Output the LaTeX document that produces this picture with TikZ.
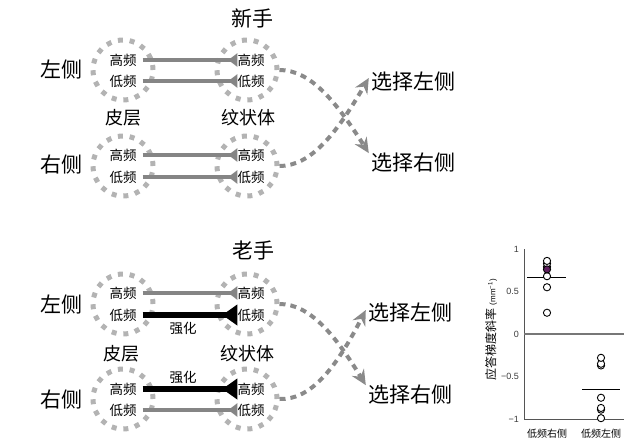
\documentclass[tikz,border=0pt]{standalone}
\usepackage{fontspec}
\newfontfamily\cjk{Noto Sans CJK SC}
\newfontfamily\numf{Liberation Sans}
\usetikzlibrary{arrows.meta}
\definecolor{ringgray}{HTML}{B3B3B3}
\definecolor{weakgray}{HTML}{858585}
\definecolor{curvegray}{HTML}{8A8A8A}
\definecolor{axisgray}{HTML}{555555}
\definecolor{dotpurple}{HTML}{5E1F5E}
\begin{document}
\begin{tikzpicture}[x=1pt,y=-1pt,
  big/.style={font=\cjk\fontsize{21}{21}\selectfont, inner sep=0pt},
  mid/.style={font=\cjk\fontsize{18}{18}\selectfont, inner sep=0pt},
  sml/.style={font=\cjk\fontsize{13.5}{13.5}\selectfont, inner sep=0pt},
  ring/.style={circle, draw=ringgray, line width=5pt, dash pattern=on 5pt off 6.8pt, minimum size=60pt, inner sep=0pt},
  weak/.style={draw=weakgray, line width=4pt, -{Triangle[reversed,length=9pt,width=13pt]}},
  strong/.style={draw=black, line width=6.5pt, -{Triangle[reversed,length=15pt,width=20pt]}},
  choice/.style={draw=curvegray, line width=4pt, dash pattern=on 6pt off 5pt, -{Stealth[length=15pt,width=14pt,inset=5pt]}},
  tick/.style={font=\numf\fontsize{9}{9}\selectfont, anchor=east, inner sep=0pt, text=axisgray!70!black},
  xlab/.style={font=\cjk\fontsize{10}{10}\selectfont, inner sep=0pt},
  dot/.style={draw=black, line width=0.9pt, fill=white},
]
\useasboundingbox (0,0) rectangle (640,445);

% ---------------- top panel (novice) ----------------
\node[big] (novice) at (252,18) {新手};
\node[big] (left1) at (61,70) {左侧};
\node[big] (right1) at (61,165) {右侧};
\node[ring] (c1) at (123,70) {};
\node[ring] (s1) at (247,70) {};
\node[ring] (c2) at (123,166) {};
\node[ring] (s2) at (247,166) {};
\node[mid] (ctx1) at (123,118) {皮层};
\node[mid] (str1) at (248,118) {纹状体};
\node[sml] (a1) at (123,60) {高频};
\node[sml] (a2) at (123,81) {低频};
\node[sml] (b1) at (251,60) {高频};
\node[sml] (b2) at (251,81) {低频};
\node[sml] (a3) at (123,155) {高频};
\node[sml] (a4) at (123,177) {低频};
\node[sml] (b3) at (251,155) {高频};
\node[sml] (b4) at (251,177) {低频};
\draw[weak] ([xshift=6pt]a1.east) -- (b1.west);
\draw[weak] ([xshift=6pt]a2.east) -- (b2.west);
\draw[weak] ([xshift=6pt]a3.east) -- (b3.west);
\draw[weak] ([xshift=6pt]a4.east) -- (b4.west);
\node[big] (cL1) at (413,82) {选择左侧};
\node[big] (cR1) at (413,163) {选择右侧};
\draw[choice] (s1.east) .. controls (310,70) and (335,100) .. ([xshift=-2pt]cR1.north west);
\draw[choice] (s2.east) .. controls (310,166) and (335,136) .. ([xshift=-2pt,yshift=4pt]cL1.west);

% ---------------- bottom panel (expert) ----------------
\node[big] (expert) at (253,250) {老手};
\node[big] (left2) at (61,305) {左侧};
\node[big] (right2) at (61,400) {右侧};
\node[ring] (c3) at (123,304) {};
\node[ring] (s3) at (247,304) {};
\node[ring] (c4) at (123,399) {};
\node[ring] (s4) at (247,399) {};
\node[mid] (ctx2) at (121,354) {皮层};
\node[mid] (str2) at (247,354) {纹状体};
\node[sml] (d1) at (123,293) {高频};
\node[sml] (d2) at (123,315) {低频};
\node[sml] (e1) at (251,293) {高频};
\node[sml] (e2) at (251,315) {低频};
\node[sml] (d3) at (123,389) {高频};
\node[sml] (d4) at (123,410) {低频};
\node[sml] (e3) at (251,389) {高频};
\node[sml] (e4) at (251,410) {低频};
\draw[weak] ([xshift=6pt]d1.east) -- (e1.west);
\draw[strong] ([xshift=6pt]d2.east) -- (e2.west);
\draw[strong] ([xshift=6pt]d3.east) -- (e3.west);
\draw[weak] ([xshift=6pt]d4.east) -- (e4.west);
\node[sml] (en1) at (183,328) {强化};
\node[sml] (en2) at (183,377) {强化};
\node[big] (cL2) at (410,313) {选择左侧};
\node[big] (cR2) at (410,395) {选择右侧};
\draw[choice] (s3.east) .. controls (310,304) and (335,335) .. ([xshift=-2pt]cR2.north west);
\draw[choice] (s4.east) .. controls (310,400) and (335,370) .. ([xshift=-2pt,yshift=3pt]cL2.west);

% ---------------- chart ----------------
\begin{scope}[shift={(0,334)}, y=85pt]
  \draw[axisgray, line width=1pt] (524,1) -- (524,-1) -- (624,-1);
  \draw[axisgray!80, line width=1.2pt] (524,0) -- (624,0);
  \node[tick] at (519,1) {1};
  \node[tick] at (519,0.5) {0.5};
  \node[tick] at (519,0) {0};
  \node[tick] at (519,-0.5) {−0.5};
  \node[tick] at (519,-1) {−1};
  \node[rotate=90, inner sep=0pt] at (491,0.05) {{\cjk\fontsize{12}{12}\selectfont 应答梯度斜率} {\numf\fontsize{8}{8}\selectfont (mm\textsuperscript{−1})}};
  \node[xlab] at (547,-1.17) {低频右侧};
  \node[xlab] at (601,-1.17) {低频左侧};
  % mean lines
  \draw[black, line width=1pt] (527,0.66) -- (566,0.66);
  \draw[black, line width=1pt] (582,-0.65) -- (620,-0.65);
  % column 1
  \foreach \v in {0.25,0.55,0.68,0.79,0.83,0.86}
    \draw[dot] (547,\v) circle[radius=3.6pt];
  \draw[dot, fill=dotpurple] (547,0.76) circle[radius=3.6pt];
  % column 2
  \foreach \v in {-0.99,-0.89,-0.87,-0.75,-0.37,-0.35,-0.28}
    \draw[dot] (601,\v) circle[radius=3.6pt];
\end{scope}
\end{tikzpicture}
\end{document}
